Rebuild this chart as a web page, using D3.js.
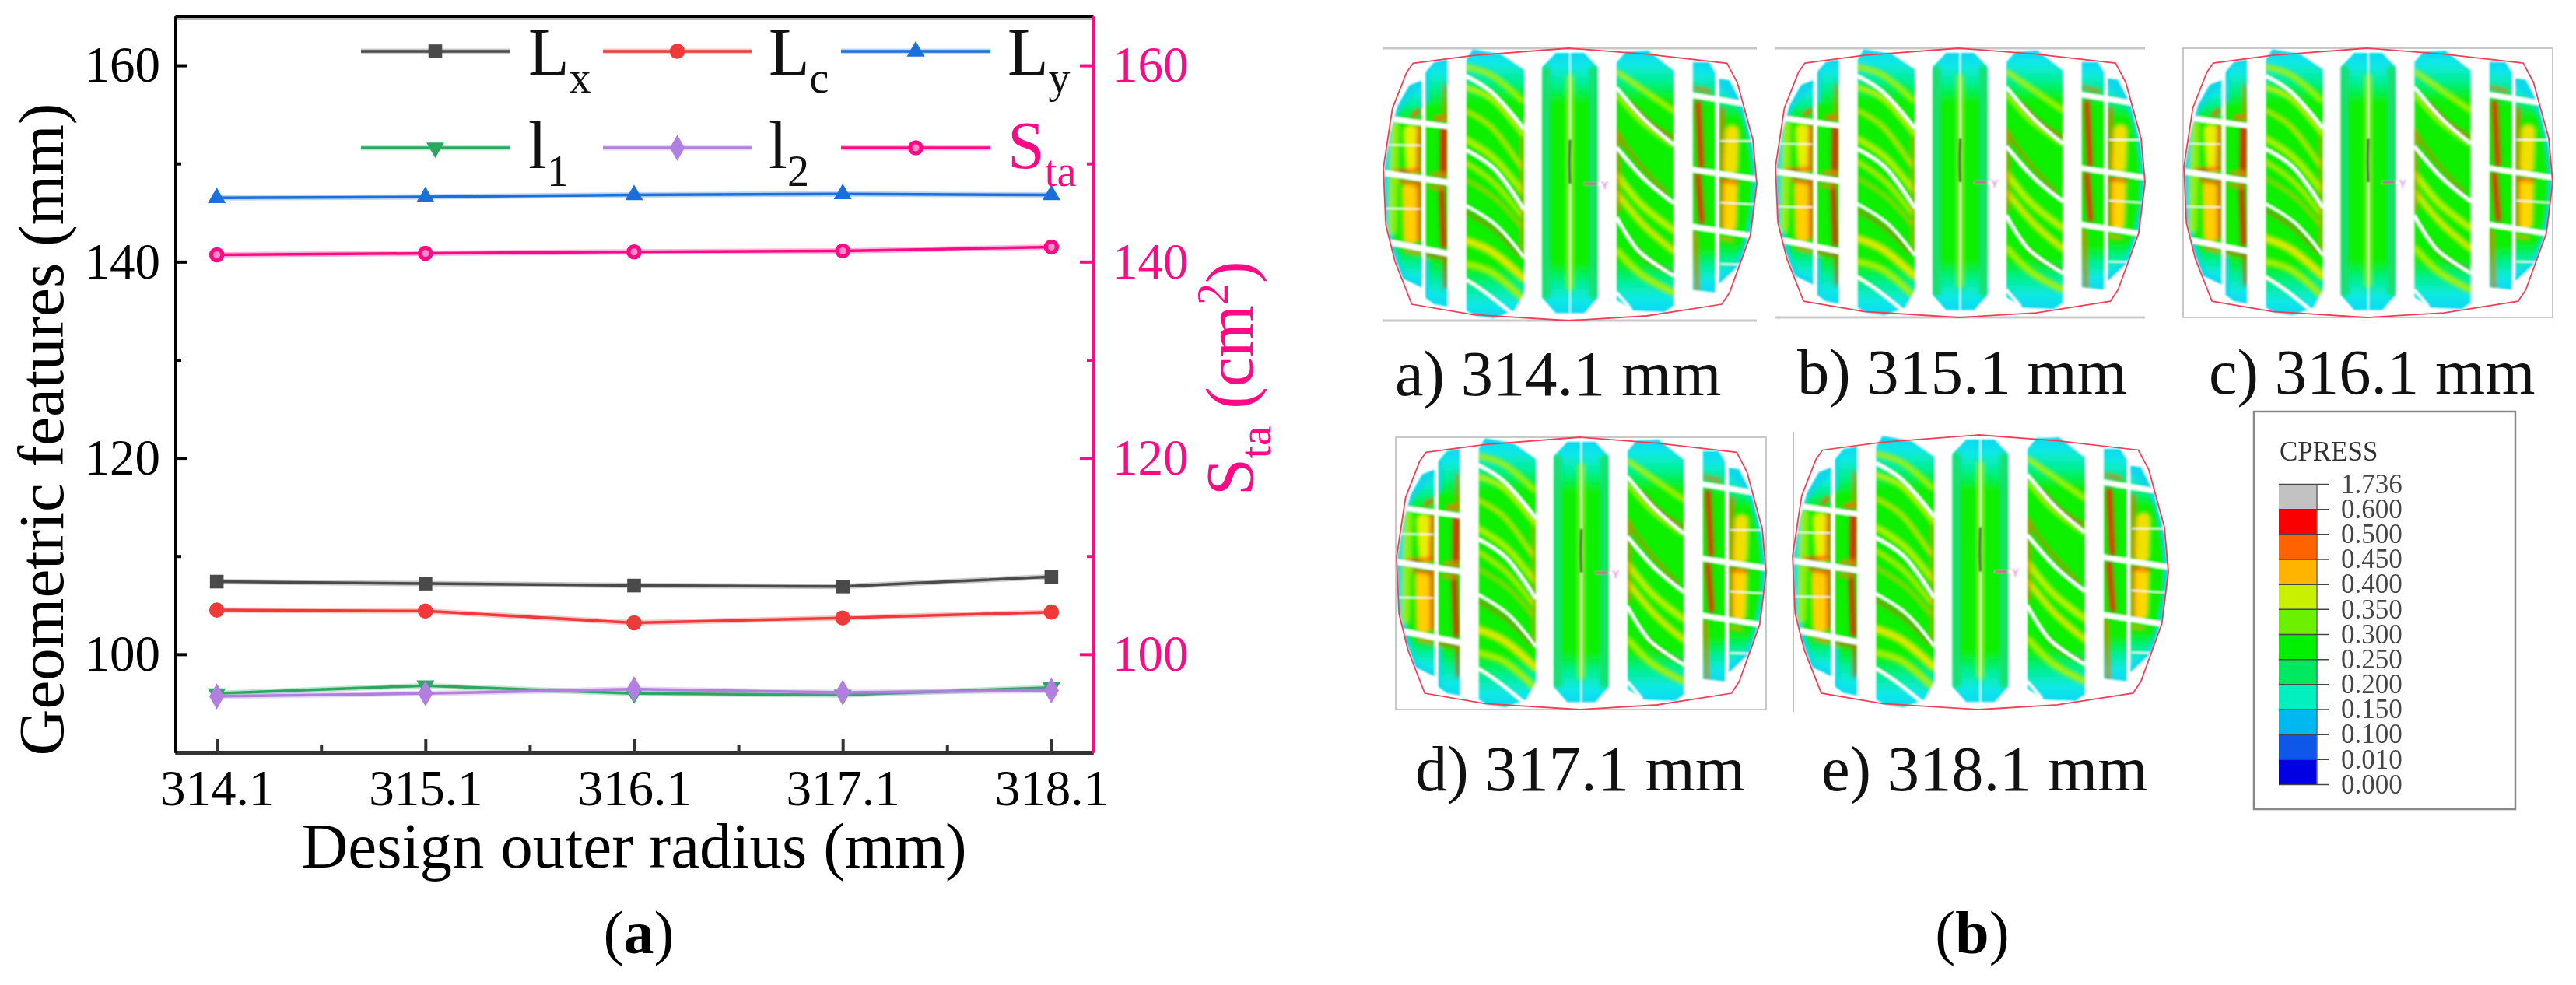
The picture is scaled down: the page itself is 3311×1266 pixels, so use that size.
<!DOCTYPE html>
<html>
<head>
<meta charset="utf-8">
<script src="https://cdn.jsdelivr.net/npm/d3@7"></script>
<style>
  body { margin: 0; background: #fff; }
  text { font-family: "Liberation Serif", serif; }
</style>
</head>
<body>
<div id="chart"></div>
<script>
// values
var radii = [314.1, 315.1, 316.1, 317.1, 318.1];
var radiiMinor = [314.6, 315.6, 316.6, 317.6];
var majorTicks = [100, 120, 140, 160];
var minorTicks = [110, 130, 150];

var Lx = [107.4, 107.2, 107.0, 106.9, 107.9];
var Lc = [104.5, 104.4, 103.2, 103.7, 104.3];
var Ly = [146.5, 146.6, 146.8, 146.9, 146.8];
var l1 = [96.0, 96.8, 96.0, 95.85, 96.6];
var l2 = [95.7, 96.0, 96.45, 96.1, 96.3];
var Sta = [140.7, 140.85, 141.0, 141.1, 141.5];

var cpressLabels = ["1.736", "0.600", "0.500", "0.450", "0.400", "0.350", "0.300", "0.250", "0.200", "0.150", "0.100", "0.010", "0.000"];
var cpressColors = ["#c2c2c2", "#fa0000", "#ff6400", "#ffb400", "#c8f000", "#6cf000", "#00f000", "#00e860", "#00f0c0", "#00b8f0", "#0858e8", "#0000e0"];

var PINK = "#ff0a86";

var series = [
  {name: "L", sub: "x", values: Lx, color: "#4a4a4a", symbol: d3.symbolSquare, size: 310, col: 0, row: 0},
  {name: "L", sub: "c", values: Lc, color: "#f03a3a", symbol: d3.symbolCircle, size: 300, col: 1, row: 0},
  {name: "L", sub: "y", values: Ly, color: "#1a6fdc", symbol: d3.symbolTriangle, size: 230, col: 2, row: 0},
  {name: "l", sub: "1", values: l1, color: "#2aa860", symbol: d3.symbolTriangle, size: 230, flip: true, col: 0, row: 1},
  {name: "l", sub: "2", values: l2, color: "#b07fe0", symbol: d3.symbolDiamond, size: 320, col: 1, row: 1},
  {name: "S", sub: "ta", values: Sta, color: PINK, symbol: d3.symbolCircle, size: 300, ring: true, col: 2, row: 1, text: PINK}
];

var svg = d3.select("#chart").append("svg")
  .attr("width", 3311)
  .attr("height", 1266)
  .style("display", "block");

var defs = svg.append("defs");

// ---- panel (a) ----
var x = d3.scaleLinear().domain([313.9, 318.3]).range([225, 1405]);
var y = d3.scaleLinear().domain([90, 165]).range([967, 21]);
var yRight = d3.scaleLinear().domain([90, 165]).range([967, 21]);

var fmtX = d3.format(".1f");

function styleAxis(g, color, domainWidth, textColor) {
  g.selectAll("path.domain").attr("stroke", color).attr("stroke-width", domainWidth);
  g.selectAll("line").attr("stroke", color).attr("stroke-width", 4);
  g.selectAll("text").attr("fill", textColor || color).style("font-size", "65px")
    .style("font-family", "Liberation Serif");
}
// minor ticks carry no label at all
function dropLabels(g) { g.selectAll("text").remove(); }

svg.append("g").attr("transform", "translate(0,21)")
  .call(d3.axisTop(x).tickValues([]).tickSizeOuter(0))
  .call(styleAxis, "#000", 5);
svg.append("line").attr("x1", 225).attr("x2", 1405).attr("y1", 24.5).attr("y2", 24.5)
  .attr("stroke", "#b5b5b5").attr("stroke-width", 3);

svg.append("g").attr("transform", "translate(0,967)")
  .call(d3.axisBottom(x).tickValues(radii).tickFormat(fmtX).tickSize(-17).tickPadding(22).tickSizeOuter(0))
  .call(styleAxis, "#333", 5, "#000");
svg.append("g").attr("transform", "translate(0,967)")
  .call(d3.axisBottom(x).tickValues(radiiMinor).tickSize(-9).tickSizeOuter(0))
  .call(styleAxis, "#333", 5).call(dropLabels);

svg.append("g").attr("transform", "translate(225,0)")
  .call(d3.axisLeft(y).tickValues(majorTicks).tickFormat(d3.format("d")).tickSize(-15).tickPadding(19).tickSizeOuter(0))
  .call(styleAxis, "#000", 3);
svg.append("g").attr("transform", "translate(225,0)")
  .call(d3.axisLeft(y).tickValues(minorTicks).tickSize(-8).tickSizeOuter(0))
  .call(styleAxis, "#000", 3).call(dropLabels);

svg.append("g").attr("transform", "translate(1405,0)")
  .call(d3.axisRight(yRight).tickValues(majorTicks).tickFormat(d3.format("d")).tickSize(-17).tickPadding(25).tickSizeOuter(0))
  .call(styleAxis, PINK, 4);
svg.append("g").attr("transform", "translate(1405,0)")
  .call(d3.axisRight(yRight).tickValues(minorTicks).tickSize(-8).tickSizeOuter(0))
  .call(styleAxis, PINK, 4).call(dropLabels);

svg.append("text").attr("x", 815).attr("y", 1115).attr("text-anchor", "middle")
  .style("font-size", "83px").text("Design outer radius (mm)");

svg.append("text").attr("transform", "translate(81,552) rotate(-90)").attr("text-anchor", "middle")
  .style("font-size", "83px").text("Geometric features (mm)");

// right title is laid piece by piece because of the sub and superscript
var titleParts = [
  {t: "S", size: 86, dy: 0},
  {t: "ta", size: 58, dy: 23},
  {t: "\u00a0(cm", size: 86, dy: 0},
  {t: "2", size: 56, dy: -32},
  {t: ")", size: 86, dy: 0}
];
var rightTitle = svg.append("g").attr("transform", "translate(1610,637) rotate(-90)").attr("fill", PINK);
var runX = 0;
titleParts.forEach(function(part) {
  var t = rightTitle.append("text").attr("x", runX).attr("y", part.dy)
    .style("font-size", part.size + "px").text(part.t);
  runX += t.node().getComputedTextLength();
});

function marker(sel, s) {
  var path = d3.symbol().type(s.symbol).size(s.size);
  sel.attr("d", path)
    .attr("fill", s.color);
}

var line = d3.line();

series.forEach(function(s) {
  var yy = s.name === "S" ? yRight : y;
  var pts = radii.map(function(r, i) { return [x(r), yy(s.values[i])]; });
  var g = svg.append("g");
  g.append("path").attr("d", line(pts)).attr("fill", "none")
    .attr("stroke", s.color).attr("stroke-opacity", 0.3).attr("stroke-width", 7);
  g.append("path").attr("d", line(pts)).attr("fill", "none")
    .attr("stroke", s.color).attr("stroke-width", 3.5);
  g.selectAll("path.m").data(pts).enter().append("path").attr("class", "m")
    .call(marker, s)
    .attr("transform", function(d) {
      return "translate(" + d[0] + "," + d[1] + ")" + (s.flip ? " rotate(180)" : "");
    });
  if (s.ring) {
    g.selectAll("circle").data(pts).enter().append("circle")
      .attr("cx", function(d) { return d[0]; }).attr("cy", function(d) { return d[1]; })
      .attr("r", 4.5).attr("fill", "#ff8cc4");
  }
});

// legend of panel (a)
var legendCols = [{x1: 464, x2: 655, t: 679}, {x1: 775, x2: 966, t: 988}, {x1: 1081, x2: 1273, t: 1295}];
var legendRows = [{y: 66, base: 96}, {y: 190, base: 216}];

series.forEach(function(s) {
  var c = legendCols[s.col], r = legendRows[s.row];
  var mid = (c.x1 + c.x2) / 2;
  var g = svg.append("g");
  g.append("line").attr("x1", c.x1).attr("x2", c.x2).attr("y1", r.y).attr("y2", r.y)
    .attr("stroke", s.color).attr("stroke-opacity", 0.3).attr("stroke-width", 7);
  g.append("line").attr("x1", c.x1).attr("x2", c.x2).attr("y1", r.y).attr("y2", r.y)
    .attr("stroke", s.color).attr("stroke-width", 3.5);
  g.append("path").call(marker, s)
    .attr("transform", "translate(" + mid + "," + r.y + ")" + (s.flip ? " rotate(180)" : ""));
  if (s.ring) g.append("circle").attr("cx", mid).attr("cy", r.y).attr("r", 4.5).attr("fill", "#ff8cc4");
  var t = g.append("text").attr("x", c.t).attr("y", r.base)
    .attr("fill", s.text || "#111").style("font-size", "86px");
  t.append("tspan").text(s.name);
  t.append("tspan").attr("dy", 23).style("font-size", "56px").text(s.sub);
});

// panel captions
[{x: 821, letter: "a"}, {x: 2535, letter: "b"}].forEach(function(c) {
  var t = svg.append("text").attr("x", c.x).attr("y", 1225).attr("text-anchor", "middle")
    .style("font-size", "78px");
  t.append("tspan").text("(");
  t.append("tspan").style("font-weight", "bold").text(c.letter);
  t.append("tspan").text(")");
});

// ---- panel (b): contact patches, drawn in footprint units ----
var panels = [
  {label: "a) 314.1 mm", x0: 1778, x1: 2258, y0: 62, y1: 412, lx: 1793, ly: 508, frame: "tb"},
  {label: "b) 315.1 mm", x0: 2282, x1: 2757, y0: 62, y1: 408, lx: 2310, ly: 506, frame: "tb"},
  {label: "c) 316.1 mm", x0: 2807, x1: 3281, y0: 62, y1: 408, lx: 2839, ly: 506, frame: "box"},
  {label: "d) 317.1 mm", x0: 1795, x1: 2270, y0: 562, y1: 912, lx: 1819, ly: 1016, frame: "box"},
  {label: "e) 318.1 mm", x0: 2304, x1: 2787, y0: 559, y1: 912, lx: 2341, ly: 1016, frame: "left"}
];

var outline = [[800, 97], [430, 125], [200, 155], [175, 190], [120, 330], [85, 560], [95, 780], [130, 920], [195, 1085], [430, 1125], [800, 1148], [1100, 1130], [1390, 1085], [1420, 1040], [1500, 820], [1525, 620], [1510, 450], [1450, 230], [1410, 155], [1100, 120]];

var ribs = [
  [[232, 222], [185, 240], [140, 320], [110, 430], [88, 570], [92, 760], [120, 880], [160, 985], [232, 1020]],
  [[248, 190], [280, 150], [332, 140], [332, 1095], [280, 1085], [248, 1060]],
  [[405, 140], [430, 100], [540, 120], [628, 180], [628, 1040], [590, 1110], [510, 1140], [440, 1130], [405, 1110]],
  [[697, 170], [750, 115], [860, 115], [912, 170], [912, 1060], [860, 1120], [750, 1120], [697, 1060]],
  [[985, 150], [1020, 110], [1120, 105], [1205, 170], [1205, 1090], [1170, 1115], [1050, 1110], [985, 1070]],
  [[1278, 150], [1340, 150], [1365, 190], [1365, 1040], [1278, 1030]],
  [[1380, 215], [1420, 220], [1470, 320], [1510, 480], [1525, 620], [1505, 790], [1460, 930], [1380, 1005]]
];

var streaks = [
  // outer edges of the shoulders
  {c: "#10d8e8", w: 36, p: [[232, 222], [140, 320], [100, 450], [88, 570], [92, 760], [120, 880], [160, 985], [232, 1020]]},
  {c: "#10d8e8", w: 36, p: [[1380, 215], [1470, 320], [1512, 480], [1525, 620], [1505, 790], [1460, 930], [1380, 1005]]},
  {c: "#10d8e8", w: 24, p: [[250, 160], [250, 300]]},
  {c: "#10d8e8", w: 24, p: [[250, 920], [250, 1080]]},
  // centre rib
  {c: "#18e070", w: 34, p: [[712, 180], [712, 1050]]},
  {c: "#18e070", w: 34, p: [[897, 180], [897, 1050]]},
  {c: "#90f020", w: 26, p: [[805, 210], [805, 1020]]},
  // left shoulder
  {c: "#e8f000", w: 56, p: [[190, 420], [200, 560]]},
  {c: "#ffd000", w: 56, p: [[185, 640], [190, 830]]},
  {c: "#90f000", w: 34, p: [[130, 400], [120, 800]]},
  {c: "#ff5000", w: 16, p: [[222, 400], [218, 568]]},
  {c: "#ff5000", w: 16, p: [[222, 612], [222, 835]]},
  {c: "#ff6000", w: 16, p: [[222, 340], [200, 358]]},
  {c: "#ff3000", w: 14, p: [[130, 572], [225, 568]]},
  {c: "#ff5000", w: 14, p: [[150, 610], [225, 625]]},
  {c: "#ff9000", w: 14, p: [[170, 875], [225, 890]]},
  // second rib
  {c: "#ff7000", w: 10, p: [[322, 240], [322, 360]]},
  {c: "#ff7000", w: 20, p: [[290, 368], [325, 368]]},
  {c: "#fa1000", w: 22, p: [[318, 410], [316, 590]]},
  {c: "#ff8000", w: 14, p: [[275, 585], [320, 585]]},
  {c: "#fa1000", w: 18, p: [[310, 630], [318, 860]]},
  {c: "#ff8000", w: 12, p: [[265, 632], [310, 635]]},
  {c: "#fa3000", w: 10, p: [[322, 895], [324, 1020]]},
  {c: "#fa5000", w: 10, p: [[250, 893], [322, 905]]},
  // diagonal ribs, broad pale bands first
  {c: "#b0f000", w: 20, p: [[405, 170], [500, 200], [620, 300]]},
  {c: "#d8f000", w: 18, p: [[405, 250], [500, 290], [625, 430]]},
  {c: "#e8e000", w: 14, p: [[405, 340], [500, 400], [620, 560]]},
  {c: "#c0f000", w: 22, p: [[405, 450], [510, 520], [620, 650]]},
  {c: "#e0e800", w: 14, p: [[405, 540], [510, 615], [620, 745]]},
  {c: "#f0c000", w: 9, p: [[405, 605], [520, 680], [620, 790]]},
  {c: "#d06000", w: 9, p: [[405, 730], [510, 795], [610, 895]]},
  {c: "#e8e800", w: 28, p: [[405, 840], [500, 880], [625, 985]]},
  {c: "#b0f000", w: 24, p: [[405, 930], [500, 960], [620, 1060]]},
  {c: "#f09000", w: 9, p: [[620, 440], [620, 900]]},
  {c: "#c0f000", w: 18, p: [[990, 190], [1090, 260], [1205, 340]]},
  {c: "#d8f000", w: 14, p: [[990, 280], [1080, 380], [1200, 470]]},
  {c: "#e85000", w: 10, p: [[1040, 310], [1120, 390], [1205, 445]]},
  {c: "#e87000", w: 9, p: [[985, 420], [1070, 540], [1180, 660]]},
  {c: "#c8f000", w: 24, p: [[990, 590], [1080, 700], [1205, 800]]},
  {c: "#e0e800", w: 22, p: [[990, 660], [1090, 780], [1205, 880]]},
  {c: "#d06000", w: 8, p: [[1060, 870], [1110, 920], [1200, 965]]},
  {c: "#b0f000", w: 24, p: [[990, 880], [1080, 970], [1205, 1040]]},
  {c: "#e88000", w: 10, p: [[992, 420], [992, 730]]},
  // right shoulder
  {c: "#fa2000", w: 20, p: [[1298, 310], [1310, 550]]},
  {c: "#fa2000", w: 20, p: [[1298, 590], [1312, 765]]},
  {c: "#e08000", w: 14, p: [[1288, 810], [1295, 1030]]},
  {c: "#ff7000", w: 12, p: [[1285, 250], [1345, 265]]},
  {c: "#f0e000", w: 54, p: [[1430, 420], [1425, 560]]},
  {c: "#ffd800", w: 54, p: [[1425, 625], [1420, 780]]},
  {c: "#ff6000", w: 12, p: [[1392, 330], [1392, 570]]},
  {c: "#ff6000", w: 12, p: [[1392, 610], [1392, 790]]},
  {c: "#ff5000", w: 14, p: [[1385, 607], [1450, 615]]},
  {c: "#ffa000", w: 12, p: [[1385, 830], [1430, 838]]}
];

var sipes = [
  {w: 13, p: [[405, 205], [500, 265], [628, 410]]},
  {w: 13, p: [[405, 490], [510, 560], [628, 720]]},
  {w: 10, p: [[405, 705], [520, 780], [628, 905]]},
  {w: 12, p: [[405, 990], [480, 1040], [578, 1118]]},
  {w: 12, p: [[985, 250], [1090, 370], [1205, 470]]},
  {w: 13, p: [[985, 480], [1090, 600], [1205, 695]]},
  {w: 12, p: [[985, 750], [1070, 880], [1205, 975]]},
  {w: 10, p: [[985, 1040], [1040, 1105]]},
  {w: 12, p: [[1110, 100], [1205, 175]]},
  {w: 20, p: [[115, 370], [335, 400]]},
  {w: 22, p: [[85, 578], [335, 615]]},
  {w: 22, p: [[105, 845], [335, 890]]},
  {w: 20, p: [[1275, 278], [1480, 312]]},
  {w: 20, p: [[1275, 565], [1525, 602]]},
  {w: 20, p: [[1275, 785], [1500, 820]]},
  {w: 5, p: [[100, 470], [228, 472]]},
  {w: 5, p: [[92, 715], [228, 717]]},
  {w: 5, p: [[1385, 455], [1520, 455]]},
  {w: 5, p: [[1385, 692], [1520, 700]]},
  {w: 5, p: [[1385, 930], [1480, 932]]},
  {w: 4, p: [[805, 115], [805, 1120]]}
];

var ribGrad = defs.append("linearGradient").attr("id", "ribGrad")
  .attr("x1", 0).attr("x2", 0).attr("y1", 0).attr("y2", 1);
[[0, "#10d8f0"], [0.05, "#10e8e8"], [0.12, "#00f090"], [0.2, "#0cf000"], [0.8, "#0cf000"], [0.88, "#00f090"], [0.95, "#10e8e8"], [1, "#10d8f0"]]
  .forEach(function(d) { ribGrad.append("stop").attr("offset", d[0]).attr("stop-color", d[1]); });

function blurFilter(id, amount) {
  defs.append("filter").attr("id", id)
    .attr("x", "-5%").attr("y", "-5%").attr("width", "110%").attr("height", "110%")
    .append("feGaussianBlur").attr("stdDeviation", amount);
}
blurFilter("soft", 1.1);
blurFilter("softBands", 2.4);
blurFilter("softText", 0.6);

panels.forEach(function(p, pi) {
  var px = d3.scaleLinear().domain([85, 1525]).range([p.x0, p.x1]);
  var py = d3.scaleLinear().domain([97, 1148]).range([p.y0, p.y1]);
  var poly = d3.line().x(function(d) { return px(d[0]); }).y(function(d) { return py(d[1]); });
  var curve = d3.line().x(function(d) { return px(d[0]); }).y(function(d) { return py(d[1]); }).curve(d3.curveCatmullRom);
  var k = (p.x1 - p.x0) / 1440;

  var g = svg.append("g");

  // image frame left over from the screenshot
  var frame = g.append("g").attr("stroke", "#c8c8c8").attr("fill", "none");
  if (p.frame === "tb") {
    frame.append("line").attr("x1", p.x0).attr("x2", p.x1).attr("y1", p.y0).attr("y2", p.y0).attr("stroke-width", 3);
    frame.append("line").attr("x1", p.x0).attr("x2", p.x1).attr("y1", p.y1).attr("y2", p.y1).attr("stroke-width", 3);
  } else if (p.frame === "box") {
    frame.append("rect").attr("x", p.x0 - 1).attr("y", p.y0).attr("width", p.x1 - p.x0 + 1).attr("height", p.y1 - p.y0).attr("stroke-width", 2);
  } else {
    frame.append("line").attr("x1", p.x0 + 1).attr("x2", p.x0 + 1).attr("y1", p.y0 - 4).attr("y2", p.y1 + 3).attr("stroke", "#aaa").attr("stroke-width", 1.5);
  }

  var clip = defs.append("clipPath").attr("id", "ribs" + pi);
  ribs.forEach(function(r) { clip.append("path").attr("d", poly(r) + "Z"); });

  var soft = g.append("g").attr("filter", "url(#soft)");
  var inner = soft.append("g").attr("clip-path", "url(#ribs" + pi + ")");
  ribs.forEach(function(r) { inner.append("path").attr("d", poly(r) + "Z").attr("fill", "url(#ribGrad)"); });
  var bands = inner.append("g").attr("filter", "url(#softBands)");
  streaks.forEach(function(s) {
    bands.append("path").attr("d", curve(s.p)).attr("fill", "none")
      .attr("stroke", s.c).attr("stroke-width", s.w * k).attr("stroke-linecap", "round");
  });
  sipes.forEach(function(s) {
    inner.append("path").attr("d", curve(s.p)).attr("fill", "none")
      .attr("stroke", "#fff").attr("stroke-width", s.w * k);
  });

  // part axes at the patch centre
  soft.append("path").attr("d", curve([[805, 450], [803, 540], [805, 620]])).attr("fill", "none")
    .attr("stroke", "#555").attr("stroke-width", 3);
  soft.append("line").attr("x1", px(860)).attr("x2", px(908)).attr("y1", py(620)).attr("y2", py(620))
    .attr("stroke", "#d040a0").attr("stroke-width", 3);
  soft.append("text").attr("x", px(925)).attr("y", py(640)).attr("fill", "#e060e0")
    .style("font-family", "Liberation Sans").style("font-size", "14px").text("Y");

  // outer rim stays sharper than the contour
  g.append("path").attr("d", poly(outline) + "Z").attr("fill", "none")
    .attr("stroke", "#f04058").attr("stroke-width", 1.8);

  g.append("text").attr("x", p.lx).attr("y", p.ly).attr("fill", "#111")
    .style("font-size", "82.5px").text(p.label);
});

// CPRESS legend
var legendG = svg.append("g").attr("filter", "url(#softText)");
legendG.append("rect").attr("x", 2897).attr("y", 529).attr("width", 336).attr("height", 511)
  .attr("fill", "#fff").attr("stroke", "#888").attr("stroke-width", 2.5);
legendG.append("text").attr("x", 2930).attr("y", 592).attr("fill", "#333")
  .style("font-size", "35px").text("CPRESS");

var cy = d3.scalePoint().domain(cpressLabels).range([622, 1008]);
legendG.selectAll("rect.band").data(cpressColors).enter().append("rect").attr("class", "band")
  .attr("x", 2929).attr("width", 49)
  .attr("y", function(d, i) { return cy(cpressLabels[i]); })
  .attr("height", function(d, i) { return cy(cpressLabels[i + 1]) - cy(cpressLabels[i]); })
  .attr("fill", function(d) { return d; });
legendG.append("line").attr("x1", 2978).attr("x2", 2978).attr("y1", 622).attr("y2", 1008)
  .attr("stroke", "#666").attr("stroke-width", 1.5);

var cAxis = legendG.append("g").attr("transform", "translate(2978,0)")
  .call(d3.axisRight(cy).tickSize(15).tickPadding(16).tickSizeOuter(0));
cAxis.select("path.domain").remove();
cAxis.selectAll("line").attr("stroke", "#444").attr("stroke-width", 1.5).attr("x1", -49);
cAxis.selectAll("text").attr("fill", "#444").style("font-size", "35px").style("font-family", "Liberation Serif");
</script>
</body>
</html>
